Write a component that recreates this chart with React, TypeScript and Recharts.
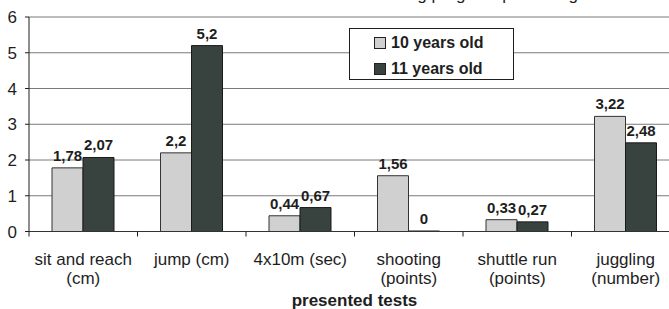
import { Bar, BarChart, CartesianGrid, LabelList, XAxis, YAxis } from 'recharts';

const categories = ['sit and reach\n(cm)', 'jump (cm)', '4x10m (sec)', 'shooting\n(points)', 'shuttle run\n(points)', 'juggling\n(number)'];
const tenYears = [1.78, 2.2, 0.44, 1.56, 0.33, 3.22];
const elevenYears = [2.07, 5.2, 0.67, 0, 0.27, 2.48];
const yTicks = [0, 1, 2, 3, 4, 5, 6];
const seriesNames = ['10 years old', '11 years old'];

const FONT = '"Liberation Sans", Arial, sans-serif';
const INK = '#1e1e1e';
const LIGHT = '#d0d0d0';
const DARK = '#38423f';

const CHART_W = 690;
const CHART_H = 309;
const MARGIN = { top: 17, right: 10, bottom: 0, left: 0 };
const Y_W = 29;
const BAND = (CHART_W - MARGIN.left - MARGIN.right - Y_W) / categories.length;

const data = categories.map((name, i) => ({ name, y10: tenYears[i], y11: elevenYears[i] }));

const fmt = (v: number) => String(v).replace('.', ',');

const labelStyle = { fontSize: 15, fontWeight: 700, fontFamily: FONT, fill: INK };

function CategoryTick({ x, y, payload }: { x?: number; y?: number; payload?: { value: string } }) {
  const lines = String(payload?.value ?? '').split('\n');
  const cx = x ?? 0;
  const cy = y ?? 0;
  return (
    <g>
      <line x1={cx - BAND / 2} x2={cx - BAND / 2} y1={cy} y2={cy + 5} stroke={INK} />
      {lines.map((l, i) => (
        <text key={i} x={cx} y={cy + 33.5 + i * 19} textAnchor="middle" fontSize={17} fontFamily={FONT} fill={INK}>
          {l}
        </text>
      ))}
    </g>
  );
}

function LegendBox() {
  const fills = [LIGHT, DARK];
  return (
    <div
      style={{
        position: 'absolute', left: 349, top: 28, width: 163, height: 50,
        background: '#fff', border: `1px solid ${INK}`, fontFamily: FONT,
        fontWeight: 700, fontSize: 16, color: INK,
      }}
    >
      {seriesNames.map((n, i) => (
        <div key={n} style={{ position: 'absolute', left: 24, top: 4 + i * 26, height: 20, display: 'flex', alignItems: 'center' }}>
          <span style={{ display: 'inline-block', width: 10, height: 10, background: fills[i], border: '1px solid #222', marginRight: 5 }} />
          {n}
        </div>
      ))}
    </div>
  );
}

export default function App() {
  return (
    <div style={{ position: 'absolute', left: 0, top: 0, width: 669, height: 309, overflow: 'hidden', background: '#fff' }}>
      <div
        style={{
          position: 'absolute', left: 366, top: -14, whiteSpace: 'nowrap',
          fontFamily: FONT, fontSize: 17, lineHeight: '17px', color: INK,
        }}
      >
        Training progress percentage
      </div>
      <BarChart width={CHART_W} height={CHART_H} data={data} margin={MARGIN} barGap={0} barSize={31}>
        <CartesianGrid vertical={false} stroke="#7a7a7a" />
        <YAxis
          domain={[0, 6]}
          ticks={yTicks}
          width={Y_W}
          tickSize={4}
          tickMargin={8}
          axisLine={{ stroke: INK }}
          tickLine={{ stroke: INK }}
          tick={{ fontSize: 17, fontFamily: FONT, fill: INK }}
          interval={0}
        />
        <XAxis
          dataKey="name"
          height={77.5}
          interval={0}
          tickSize={0}
          tickMargin={0}
          tickLine={false}
          axisLine={{ stroke: '#333' }}
          tick={<CategoryTick />}
          label={{ value: 'presented tests', position: 'insideBottom', offset: 3, fontSize: 17, fontWeight: 700, fontFamily: FONT, fill: INK }}
        />
        <Bar dataKey="y10" fill={LIGHT} stroke="#333" strokeWidth={1} minPointSize={0.5} isAnimationActive={false}>
          <LabelList dataKey="y10" position="top" offset={7} formatter={(v: number) => fmt(v)} style={labelStyle} />
        </Bar>
        <Bar dataKey="y11" fill={DARK} stroke="#1a1a1a" strokeWidth={1} minPointSize={0.5} isAnimationActive={false}>
          <LabelList dataKey="y11" position="top" offset={7} formatter={(v: number) => fmt(v)} style={labelStyle} />
        </Bar>
      </BarChart>
      <LegendBox />
    </div>
  );
}
